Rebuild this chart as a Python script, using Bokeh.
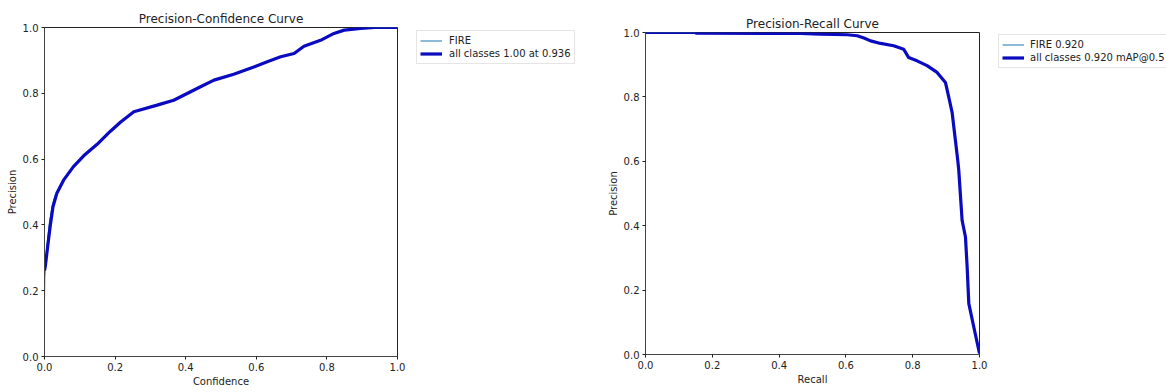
from bokeh.plotting import figure
from bokeh.layouts import row
from bokeh.models import Range1d, FixedTicker, Legend, LegendItem
from bokeh.embed import file_html
from bokeh.resources import INLINE

tick_values = [0.0, 0.2, 0.4, 0.6, 0.8, 1.0]
tick_labels = ["0.0", "0.2", "0.4", "0.6", "0.8", "1.0"]

# Precision-Confidence curve (all classes, smoothed)
conf = [0.0, 0.002, 0.009, 0.016, 0.024, 0.035, 0.054, 0.082, 0.111, 0.149, 0.186,
        0.215, 0.253, 0.319, 0.366, 0.442, 0.480, 0.536, 0.593, 0.631, 0.669, 0.707,
        0.735, 0.782, 0.820, 0.849, 0.896, 0.936, 1.0]
prec_conf = [0.262, 0.272, 0.334, 0.395, 0.455, 0.496, 0.536, 0.577, 0.610, 0.645, 0.684,
             0.712, 0.744, 0.764, 0.779, 0.820, 0.840, 0.858, 0.880, 0.896, 0.911, 0.921,
             0.943, 0.961, 0.982, 0.992, 0.997, 1.0, 1.0]
# FIRE class (raw)
fire_conf = [0.0, 0.001, 0.006, 0.014, 0.022, 0.030, 0.054, 0.082, 0.111, 0.149, 0.186,
             0.215, 0.253, 0.319, 0.366, 0.442, 0.480, 0.536, 0.593, 0.631, 0.669, 0.707,
             0.735, 0.782, 0.820, 0.849, 0.896, 0.936, 1.0]
fire_prec_conf = [0.16, 0.24, 0.33, 0.41, 0.46, 0.49, 0.536, 0.577, 0.610, 0.645, 0.684,
                  0.712, 0.744, 0.764, 0.779, 0.820, 0.840, 0.858, 0.880, 0.896, 0.911, 0.921,
                  0.943, 0.961, 0.982, 0.992, 0.997, 1.0, 1.0]

# Precision-Recall curve
recall = [0.0, 0.15, 0.151, 0.464, 0.524, 0.604, 0.634, 0.654, 0.674, 0.704,
          0.743, 0.773, 0.788, 0.813, 0.843, 0.873, 0.898, 0.908, 0.918, 0.928,
          0.935, 0.938, 0.948, 0.958, 0.963, 0.968, 0.984, 1.0]
prec_rec = [1.0, 1.0, 0.998, 0.997, 0.995, 0.993, 0.990, 0.983, 0.974, 0.966,
            0.959, 0.948, 0.922, 0.912, 0.897, 0.876, 0.845, 0.799, 0.752, 0.664,
            0.602, 0.571, 0.416, 0.365, 0.272, 0.158, 0.080, 0.003]

left_labels = ["FIRE", "all classes 1.00 at 0.936"]
right_labels = ["FIRE 0.920", "all classes 0.920 mAP@0.5"]

FONT = "DejaVu Sans"
THICK = "#0a0ac0"
THIN = "#1f77b4"
H = 390


def style(p, xlabel, ylabel):
    p.title.align = "center"
    p.title.text_font = FONT
    p.title.text_font_size = "12px"
    p.title.text_font_style = "normal"
    p.title.text_color = "#222222"
    p.title.standoff = 3
    p.xgrid.visible = False
    p.ygrid.visible = False
    p.outline_line_color = "#222222"
    p.outline_line_width = 1
    p.outline_line_alpha = 1
    p.background_fill_color = "white"
    p.border_fill_color = "white"
    for ax, lab in ((p.xaxis[0], xlabel), (p.yaxis[0], ylabel)):
        ax.ticker = FixedTicker(ticks=tick_values)
        ax.major_label_overrides = {v: l for v, l in zip(tick_values, tick_labels)}
        ax.axis_label = lab
        ax.axis_label_text_font = FONT
        ax.axis_label_text_font_size = "10px"
        ax.axis_label_text_font_style = "normal"
        ax.axis_label_text_color = "#222222"
        ax.major_label_text_font = FONT
        ax.major_label_text_font_size = "10px"
        ax.major_label_text_color = "#222222"
        ax.minor_tick_line_color = None
        ax.major_tick_in = 0
        ax.major_tick_out = 3
        ax.major_tick_line_color = "#222222"
        ax.axis_line_color = "#444444"
        ax.major_label_standoff = 3
        ax.axis_label_standoff = 2


def legend_figure(width, labels, series, left, top, glyph_w, standoff):
    # a bare panel (no axes, no outline) that only holds the legend box;
    # its range lies away from the data, so the proxy lines stay out of view
    lf = figure(width=width, height=H, x_range=Range1d(5, 6), y_range=Range1d(5, 6),
                output_backend="svg", toolbar_location=None,
                x_axis_location=None, y_axis_location=None, min_border=0,
                frame_align=False)
    lf.outline_line_color = None
    lf.xgrid.visible = False
    lf.ygrid.visible = False
    lf.background_fill_color = "white"
    lf.border_fill_color = "white"
    (xa, ya), (xb, yb) = series
    ra = lf.line(xa, ya, line_color=THIN, line_width=1)
    rb = lf.line(xb, yb, line_color=THICK, line_width=3.2)
    rows_h = 13
    pad = 3
    lg_h = 2 * rows_h + 2 * pad
    lg = Legend(items=[LegendItem(label=labels[0], renderers=[ra]),
                       LegendItem(label=labels[1], renderers=[rb])],
                location=(left, H - top - lg_h))
    lg.label_text_font = FONT
    lg.label_text_font_size = "10px"
    lg.label_text_color = "#222222"
    lg.glyph_width = glyph_w
    lg.glyph_height = rows_h
    lg.label_height = rows_h
    lg.label_standoff = standoff
    lg.spacing = 0
    lg.padding = pad
    lg.margin = 0
    lg.border_line_color = "#cccccc"
    lg.border_line_width = 1
    lg.background_fill_color = "white"
    lg.background_fill_alpha = 1
    lf.add_layout(lg, "center")
    return lf


# Left figure: Precision-Confidence
p1 = figure(width=406, height=H, x_range=Range1d(0, 1), y_range=Range1d(0, 1),
            title="Precision-Confidence Curve", output_backend="svg",
            toolbar_location=None, min_border_left=44, min_border_right=9,
            min_border_top=27, min_border_bottom=34, frame_align=False)
style(p1, "Confidence", "Precision")
p1.line(fire_conf, fire_prec_conf, line_color=THIN, line_width=1)
p1.line(conf, prec_conf, line_color=THICK, line_width=3.2)
lf1 = legend_figure(184, left_labels,
                    [(fire_conf, fire_prec_conf), (conf, prec_conf)], 10, 32, 22, 7)

# Right figure: Precision-Recall
p2 = figure(width=398, height=H, x_range=Range1d(0, 1), y_range=Range1d(0, 1),
            title="Precision-Recall Curve", output_backend="svg",
            toolbar_location=None, min_border_left=55, min_border_right=9,
            min_border_top=32, min_border_bottom=36, frame_align=False)
style(p2, "Recall", "Precision")
p2.line(recall, prec_rec, line_color=THIN, line_width=1)
p2.line(recall, prec_rec, line_color=THICK, line_width=3.2)
lf2 = legend_figure(178, right_labels,
                    [(recall, prec_rec), (recall, prec_rec)], 10, 36, 22, 6)

layout = row(p1, lf1, p2, lf2)
open("out.html", "w").write(file_html(layout, INLINE))
